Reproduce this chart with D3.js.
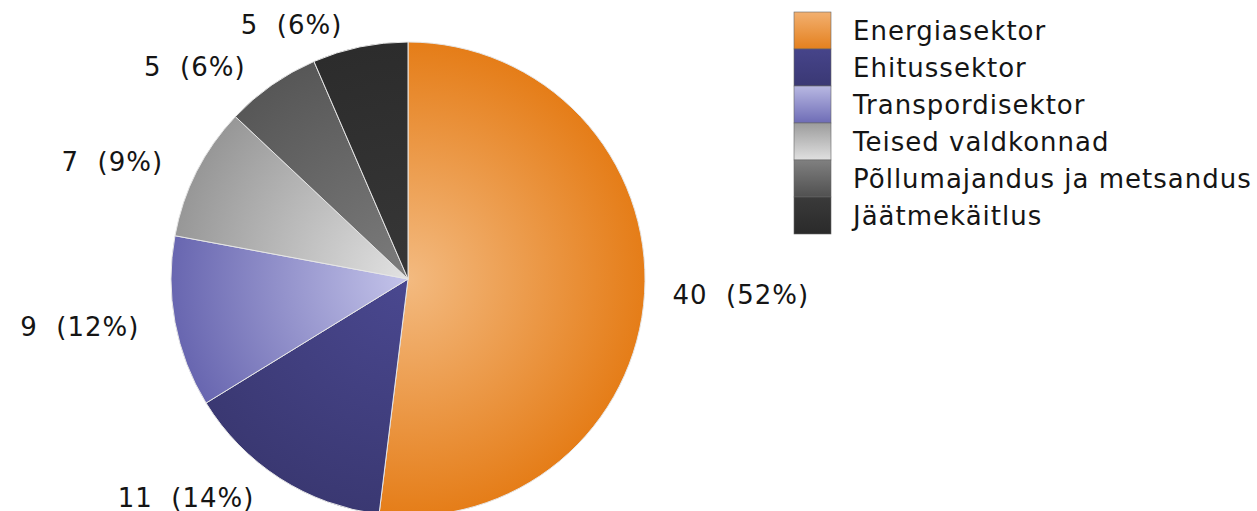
<!DOCTYPE html>
<html>
<head>
<meta charset="utf-8">
<script src="https://cdn.jsdelivr.net/npm/d3@7"></script>
<style>
  body { margin: 0; background: #fff; }
  text { font-family: "DejaVu Sans", sans-serif; fill: #151515; white-space: pre; letter-spacing: 1px; }
</style>
</head>
<body>
<div id="chart"></div>
<script>
(function(){

  // data
  const categories = ["Energiasektor", "Ehitussektor", "Transpordisektor", "Teised valdkonnad", "Põllumajandus ja metsandus", "Jäätmekäitlus"];
  const values = [40, 11, 9, 7, 5, 5];
  const percents = [52, 14, 12, 9, 6, 6];

  // colours: [pie centre, pie edge, swatch top, swatch bottom]
  const shades = [
    ["#f3ba80", "#e57d18", "#f2b070", "#e4801e"],
    ["#4a4890", "#3a3872", "#46448a", "#3a3874"],
    ["#c4c4ea", "#6866b0", "#b8b8e2", "#6e6cb6"],
    ["#e2e2e2", "#979797", "#9c9c9c", "#e0e0e0"],
    ["#7c7c7c", "#575757", "#808080", "#505050"],
    ["#373737", "#2c2c2c", "#3a3a3a", "#2a2a2a"]
  ];

  const width = 1257, height = 511;
  const cx = 408, cy = 279, radius = 237;

  const svg = d3.select("#chart").append("svg")
    .attr("width", width)
    .attr("height", height);

  const defs = svg.append("defs");

  shades.forEach((s, i) => {
    const rg = defs.append("radialGradient")
      .attr("id", "pie" + i)
      .attr("gradientUnits", "userSpaceOnUse")
      .attr("cx", 0).attr("cy", 0).attr("r", radius);
    rg.append("stop").attr("offset", "0%").attr("stop-color", s[0]);
    rg.append("stop").attr("offset", "100%").attr("stop-color", s[1]);

    const lg = defs.append("linearGradient")
      .attr("id", "sw" + i)
      .attr("x1", 0).attr("y1", 0).attr("x2", 0).attr("y2", 1);
    lg.append("stop").attr("offset", "0%").attr("stop-color", s[2]);
    lg.append("stop").attr("offset", "100%").attr("stop-color", s[3]);
  });

  const pie = d3.pie().sort(null).value(d => d);
  const arcs = pie(values);

  const arc = d3.arc().innerRadius(0).outerRadius(radius);

  const g = svg.append("g")
    .attr("transform", `translate(${cx},${cy})`);

  g.selectAll("path.slice")
    .data(arcs)
    .enter().append("path")
    .attr("class", "slice")
    .attr("d", arc)
    .attr("fill", (d, i) => `url(#pie${i})`)
    .attr("stroke", "#e6e6e6")
    .attr("stroke-width", 1);

  // labels
  const labelR = 260;
  g.selectAll("text.lbl")
    .data(arcs)
    .enter().append("text")
    .attr("class", "lbl")
    .attr("font-size", 26)
    .each(function(d, i) {
      const a = (d.startAngle + d.endAngle) / 2;
      const x = Math.sin(a) * labelR;
      const y = -Math.cos(a) * labelR;
      const right = Math.sin(a) > 0;
      d3.select(this)
        .attr("x", right ? x + 5 : x - 13)
        .attr("y", y)
        .attr("dy", "0.36em")
        .attr("text-anchor", right ? "start" : "end")
        .text(`${values[i]}  (${percents[i]}%)`);
    });

  // legend
  const legend = svg.append("g")
    .attr("transform", "translate(794,12)");

  const rowH = 37;
  const items = legend.selectAll("g.item")
    .data(categories)
    .enter().append("g")
    .attr("class", "item")
    .attr("transform", (d, i) => `translate(0,${i * rowH})`);

  items.append("rect")
    .attr("width", 37)
    .attr("height", rowH)
    .attr("fill", (d, i) => `url(#sw${i})`)
    .attr("stroke", "#666")
    .attr("stroke-width", 0.6);

  items.append("text")
    .attr("x", 59)
    .attr("y", rowH / 2)
    .attr("dy", "0.36em")
    .attr("font-size", 26)
    .text(d => d);

})();
</script>
</body>
</html>
